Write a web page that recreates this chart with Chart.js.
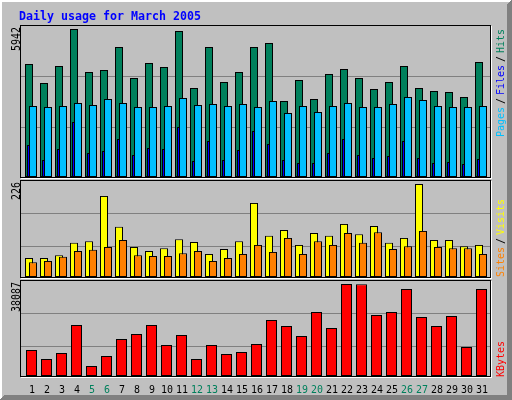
<!DOCTYPE html>
<html>
<head>
<meta charset="utf-8">
<script src="https://cdn.jsdelivr.net/npm/chart.js@4.4.0/dist/chart.umd.min.js"></script>
<style>
html, body { margin: 0; padding: 0; background: #c0c0c0; }
#wrap { position: relative; width: 512px; height: 400px; }
#wrap canvas { position: absolute; left: 0; top: 0; }
</style>
</head>
<body>
<div id="wrap">
  <canvas id="c_top" width="512" height="400"></canvas>
  <canvas id="c_mid" width="512" height="400"></canvas>
  <canvas id="c_bot" width="512" height="400"></canvas>
</div>
<script>
// daily stats, March 2005
var days = ['1','2','3','4','5','6','7','8','9','10','11','12','13','14','15','16',
            '17','18','19','20','21','22','23','24','25','26','27','28','29','30','31'];
var hits   = [4537, 3774, 4457, 5942, 4216, 4296, 5219, 3975, 4577, 4416, 5862, 3573, 5219, 3814, 4216, 5219,
              5380, 3051, 3894, 3132, 4135, 4336, 3975, 3533, 3814, 4457, 3573, 3453, 3413, 3212, 4617];
var files  = [1285, 683, 1124, 2208, 964, 1044, 1526, 883, 1164, 1124, 2007, 642, 1445, 683, 1084, 1847,
              1325, 683, 562, 562, 964, 1526, 883, 763, 843, 1445, 763, 562, 602, 522, 723];
var pages  = [2851, 2810, 2851, 2971, 2891, 3132, 2971, 2810, 2810, 2851, 3172, 2891, 2931, 2851, 2931, 2810,
              3051, 2570, 2851, 2610, 2851, 2971, 2810, 2810, 2931, 3212, 3091, 2851, 2810, 2810, 2851];
var visits = [46, 46, 53, 83, 87, 197, 122, 73, 63, 70, 92, 85, 56, 68, 87, 180,
              100, 114, 78, 107, 100, 129, 104, 124, 83, 95, 226, 90, 90, 75, 78];
var sites  = [36, 39, 49, 63, 66, 73, 90, 53, 51, 51, 58, 63, 39, 46, 56, 78,
              61, 95, 56, 87, 78, 107, 83, 109, 68, 75, 112, 73, 70, 70, 56];
var kbytes = [10764, 7038, 9522, 21113, 4140, 8280, 15318, 17388, 21113, 12834, 16974, 7038, 12834, 9108, 9936, 13248,
              23183, 20700, 16560, 26496, 19872, 38087, 37990, 25254, 26496, 36017, 24426, 20700, 24840, 12006, 36017];

var FRAME_L = 20, FRAME_R = 490;
var MONO = '"DejaVu Sans Mono", monospace';

// text going up the page, squeezed to a fixed advance per char
function drawUp(ctx, text, x, y, font, color, adv, align)
{
    ctx.save();
    ctx.font = font;
    var k = adv / ctx.measureText('0').width;
    ctx.translate(x, y);
    ctx.rotate(-Math.PI / 2);
    ctx.scale(k, 1);
    ctx.textAlign = align || 'left';
    ctx.textBaseline = 'alphabetic';
    ctx.fillStyle = color;
    ctx.fillText(text, 0, 0);
    ctx.restore();
    return text.length * adv;
}

function drawFlat(ctx, text, x, y, font, color, adv, align)
{
    ctx.save();
    ctx.font = font;
    var k = adv / ctx.measureText('0').width;
    ctx.translate(x, y);
    ctx.scale(k, 1);
    ctx.textAlign = align || 'left';
    ctx.textBaseline = 'alphabetic';
    ctx.fillStyle = color;
    ctx.fillText(text, 0, 0);
    ctx.restore();
}

var background = {
    id: 'background',
    beforeDraw: function (chart)
    {
        var ctx = chart.ctx, i;
        ctx.save();
        ctx.fillStyle = '#c0c0c0';
        ctx.fillRect(0, 0, 512, 400);
        ctx.fillStyle = '#ffffff';
        for (i = 0; i < 2; i++) {
            ctx.fillRect(0, i, 511 - i, 1);
            ctx.fillRect(i, 0, 1, 399 - i);
        }
        ctx.fillStyle = '#808080';
        for (i = 0; i < 5; i++) {
            ctx.fillRect(511 - i, i, 1, 400 - 2 * i);
            ctx.fillRect(i, 399 - i, 512 - 2 * i, 1);
        }
        ctx.restore();
        drawFlat(ctx, 'Daily usage for March 2005', 19, 19.5, 'bold 12.5px ' + MONO, '#0000ff', 7);
    }
};

function panel(opts)
{
    return {
        id: 'panel',
        beforeDatasetsDraw: function (chart)
        {
            var ctx = chart.ctx, a = chart.chartArea;
            var top = Math.round(a.top) - 4, bot = Math.round(a.bottom);
            var w = FRAME_R - FRAME_L;
            ctx.save();
            ctx.fillStyle = '#808080';
            opts.grid.forEach(function (g) { ctx.fillRect(FRAME_L + 1, bot - g, w - 1, 1); });
            ctx.fillStyle = '#000000';
            ctx.fillRect(FRAME_L, top, w + 1, 1);
            ctx.fillRect(FRAME_L, bot, w + 1, 1);
            ctx.fillRect(FRAME_L, top, 1, bot - top + 1);
            ctx.fillRect(FRAME_R, top, 1, bot - top + 1);
            ctx.fillStyle = '#ffffff';
            ctx.fillRect(FRAME_L + 1, bot + 1, w + 1, 1);
            ctx.fillRect(FRAME_R + 1, top + 1, 1, bot - top + 1);
            ctx.restore();
            // first dataset at the back
            chart.getSortedVisibleDatasetMetas().forEach(function (m) { m.controller.draw(); });
            return false;
        },
        afterDraw: function (chart)
        {
            var ctx = chart.ctx, a = chart.chartArea;
            var top = Math.round(a.top) - 4;
            var max = chart.scales.y.max;
            drawUp(ctx, String(max), 19.5, top + 2, '12px ' + MONO, '#000000', 6, 'right');
            var y = opts.labelStart;
            opts.legend.forEach(function (p) {
                var w = drawUp(ctx, p[0], 504, y, '11px ' + MONO, p[1], 6);
                y -= w + 3;
            });
            if (opts.after) opts.after(chart);
        }
    };
}

function dayLabels(chart)
{
    var ctx = chart.ctx, x = chart.scales.x;
    days.forEach(function (d, i) {
        var wd = new Date(2005, 2, +d).getDay();
        var col = (wd === 0 || wd === 6) ? '#00805c' : '#000000';
        drawFlat(ctx, d, x.getPixelForValue(i) + 0.5, 393, '11px ' + MONO, col, 6, 'center');
    });
}

function barSet(label, values, color)
{
    return {
        label: label,
        data: values,
        backgroundColor: color,
        borderColor: '#000000',
        borderWidth: 1,
        borderSkipped: false,
        inflateAmount: 0
    };
}

function makeChart(id, datasets, max, pad, catPct, barPct, plugins)
{
    return new Chart(document.getElementById(id), {
        type: 'bar',
        data: { labels: days, datasets: datasets },
        options: {
            responsive: false,
            animation: false,
            devicePixelRatio: 1,
            layout: { padding: pad },
            categoryPercentage: catPct,
            barPercentage: barPct,
            plugins: { legend: { display: false }, tooltip: { enabled: false } },
            scales: {
                x: { display: false },
                y: { display: false, min: 0, max: max }
            }
        },
        plugins: plugins
    });
}

makeChart('c_top',
    [barSet('Hits', hits, '#00805c'), barSet('Files', files, '#0000ff'), barSet('Pages', pages, '#00c0ff')],
    Math.max.apply(null, hits),
    { left: 23.5, right: 23.5, top: 29, bottom: 223 },
    0.4, 4,
    [background, panel({
        grid: [50, 101],
        labelStart: 137,
        legend: [['Pages', '#00c0ff'], ['/', '#000000'], ['Files', '#0000ff'], ['/', '#000000'], ['Hits', '#00805c']]
    })]);

makeChart('c_mid',
    [barSet('Visits', visits, '#ffff00'), barSet('Sites', sites, '#ff8000')],
    Math.max.apply(null, visits),
    { left: 23.5, right: 23.5, top: 184, bottom: 123 },
    8 / 15, 2,
    [panel({
        grid: [31, 64],
        labelStart: 277,
        legend: [['Sites', '#ff8000'], ['/', '#000000'], ['Visits', '#ffff00']]
    })]);

makeChart('c_bot',
    [barSet('KBytes', kbytes, '#ff0000')],
    Math.max.apply(null, kbytes),
    { left: 24, right: 23, top: 284, bottom: 24 },
    11 / 15, 1,
    [panel({
        grid: [30, 63],
        labelStart: 377,
        legend: [['KBytes', '#ff0000']],
        after: dayLabels
    })]);
</script>
</body>
</html>
